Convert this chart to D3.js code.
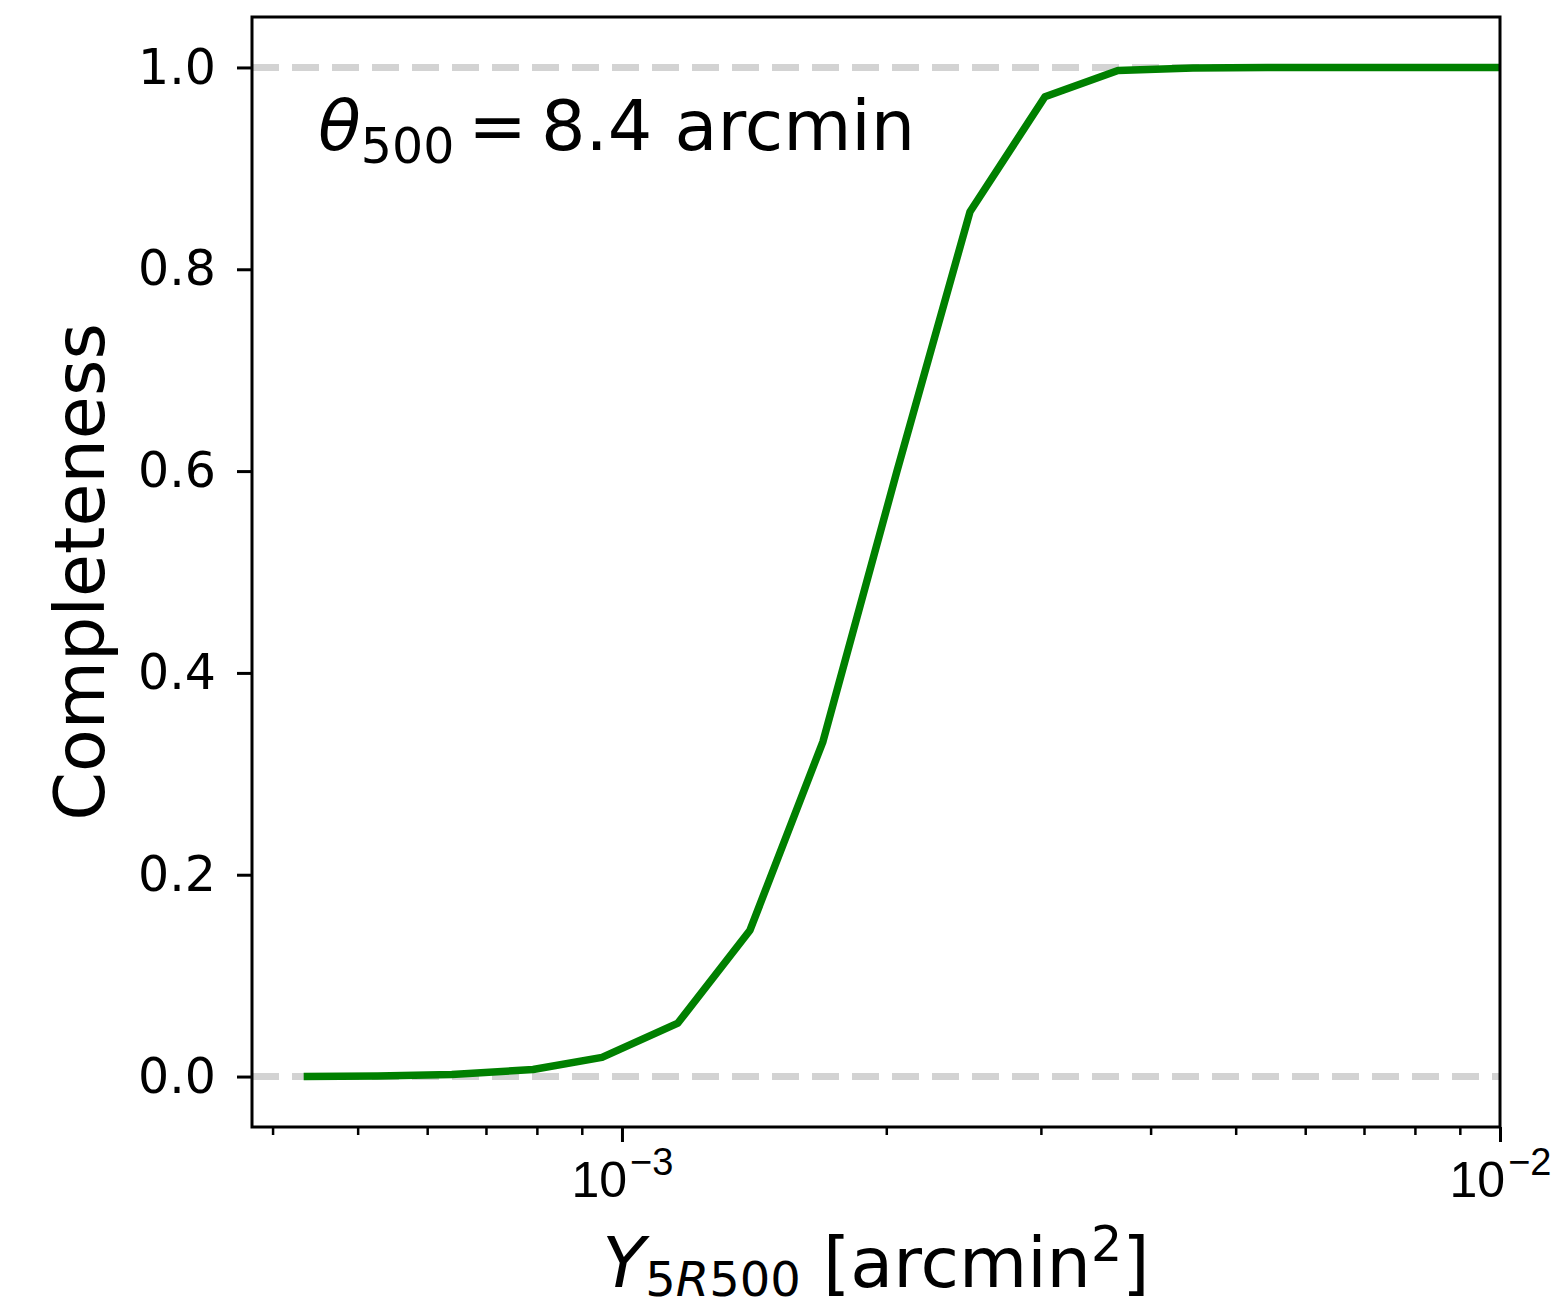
<!DOCTYPE html>
<html>
<head>
<meta charset="utf-8">
<script src="https://cdn.jsdelivr.net/npm/d3@7"></script>
<style>
  html, body { margin: 0; padding: 0; background: #fff; }
  svg { display: block; font-family: "DejaVu Sans", sans-serif; }
</style>
</head>
<body>
<svg id="chart" width="1553" height="1309"></svg>
<script>
// Completeness curve.
const yValues = [4.34e-4, 5.27e-4, 6.40e-4, 7.92e-4, 9.49e-4, 1.158e-3, 1.399e-3,
  1.694e-3, 2.057e-3, 2.491e-3, 3.032e-3, 3.672e-3, 4.47e-3, 5.43e-3, 6.59e-3,
  8.00e-3, 9.72e-3, 1.18e-2];
const completeness = [0.0, 0.0005, 0.002, 0.007, 0.019, 0.053, 0.145, 0.332,
  0.60, 0.857, 0.971, 0.997, 0.9995, 1.0, 1.0, 1.0, 1.0, 1.0];

const yTicks = [0.0, 0.2, 0.4, 0.6, 0.8, 1.0];
const xMajorTicks = [1e-3, 1e-2];
const xMinorTicks = [4e-4, 5e-4, 6e-4, 7e-4, 8e-4, 9e-4,
  2e-3, 3e-3, 4e-3, 5e-3, 6e-3, 7e-3, 8e-3, 9e-3];
const refLines = [0.0, 1.0];

const margin = {top: 17, right: 53, bottom: 182, left: 252};
const width = 1553, height = 1309;
const plotW = width - margin.left - margin.right;
const plotH = height - margin.top - margin.bottom;

const svg = d3.select('#chart');

const x = d3.scaleLog().domain([3.79e-4, 1e-2]).range([0, plotW]);
const y = d3.scaleLinear().domain([-0.05, 1.05]).range([plotH, 0]);

svg.append('defs').append('clipPath').attr('id', 'plotClip')
    .append('rect').attr('width', plotW).attr('height', plotH);

const g = svg.append('g')
    .attr('transform', `translate(${margin.left},${margin.top})`);

// Dashed guide lines at 0 and 1
g.append('g').attr('clip-path', 'url(#plotClip)')
  .selectAll('line').data(refLines).join('line')
    .attr('x1', 0).attr('x2', plotW)
    .attr('y1', d => y(d)).attr('y2', d => y(d))
    .attr('stroke', '#d3d3d3')
    .attr('stroke-width', 7)
    .attr('stroke-dasharray', '27,13');

// The curve
const line = d3.line()
    .x((d, i) => x(yValues[i]))
    .y(d => y(d));

g.append('g').attr('clip-path', 'url(#plotClip)')
  .append('path')
    .datum(completeness)
    .attr('d', line)
    .attr('fill', 'none')
    .attr('stroke', '#008000')
    .attr('stroke-width', 7.5)
    .attr('stroke-linejoin', 'round')
    .attr('stroke-linecap', 'butt');

// Y axis
const yAxis = g.append('g')
    .call(d3.axisLeft(y).tickValues(yTicks).tickFormat(d3.format('.1f'))
        .tickSize(15).tickPadding(21));
yAxis.select('.domain').remove();
yAxis.selectAll('.tick line').attr('stroke', '#000').attr('stroke-width', 3);
yAxis.selectAll('.tick text')
    .attr('font-size', 49).attr('fill', '#000')
    .attr('font-family', '"DejaVu Sans", sans-serif');

// X axis: minor ticks, then major ticks with 10^n labels
const xAxisG = g.append('g').attr('transform', `translate(0,${plotH})`);
xAxisG.call(d3.axisBottom(x).tickValues(xMinorTicks).tickSize(8)
    .tickFormat(''));
xAxisG.select('.domain').remove();
xAxisG.selectAll('.tick line').attr('stroke', '#000').attr('stroke-width', 2.5);

const xMajorG = g.append('g').attr('transform', `translate(0,${plotH})`);
xMajorG.call(d3.axisBottom(x).tickValues(xMajorTicks).tickSize(15)
    .tickFormat(''));
xMajorG.select('.domain').remove();
xMajorG.selectAll('.tick line').attr('stroke', '#000').attr('stroke-width', 3);
xMajorG.selectAll('.tick').each(function(d) {
  const t = d3.select(this).append('text')
      .attr('y', 70)
      .attr('text-anchor', 'middle')
      .attr('fill', '#000')
      .attr('font-size', 50);
  t.append('tspan').text('10');
  t.append('tspan').attr('font-size', 38).attr('dx', 3).attr('dy', -22)
      .text('\u2212' + Math.round(-Math.log10(d)));
});

// Frame
g.append('rect')
    .attr('width', plotW).attr('height', plotH)
    .attr('fill', 'none').attr('stroke', '#000').attr('stroke-width', 3);

// Annotation
const ann = g.append('text')
    .attr('x', 66).attr('y', 133)
    .attr('font-size', 70).attr('fill', '#000');
ann.append('tspan').attr('font-style', 'italic').text('\u03b8');
ann.append('tspan').attr('font-size', 49).attr('dy', 13).text('500');
ann.append('tspan').attr('dy', -13).text('\u2009=\u20098.4 arcmin');

// Axis labels
const xl = svg.append('text')
    .attr('x', margin.left + plotW / 2).attr('y', 1287)
    .attr('text-anchor', 'middle')
    .attr('font-size', 70).attr('fill', '#000');
xl.append('tspan').attr('font-style', 'italic').text('Y');
xl.append('tspan').attr('font-size', 48).attr('dy', 9).text('5');
xl.append('tspan').attr('font-size', 48).attr('font-style', 'italic').text('R');
xl.append('tspan').attr('font-size', 48).text('500');
xl.append('tspan').attr('dy', -9).text(' [arcmin');
xl.append('tspan').attr('font-size', 49).attr('dy', -26).text('2');
xl.append('tspan').attr('dy', 26).text(']');

svg.append('text')
    .attr('transform', `translate(104,${margin.top + plotH / 2}) rotate(-90)`)
    .attr('text-anchor', 'middle')
    .attr('font-size', 70).attr('fill', '#000')
    .text('Completeness');
</script>
</body>
</html>
